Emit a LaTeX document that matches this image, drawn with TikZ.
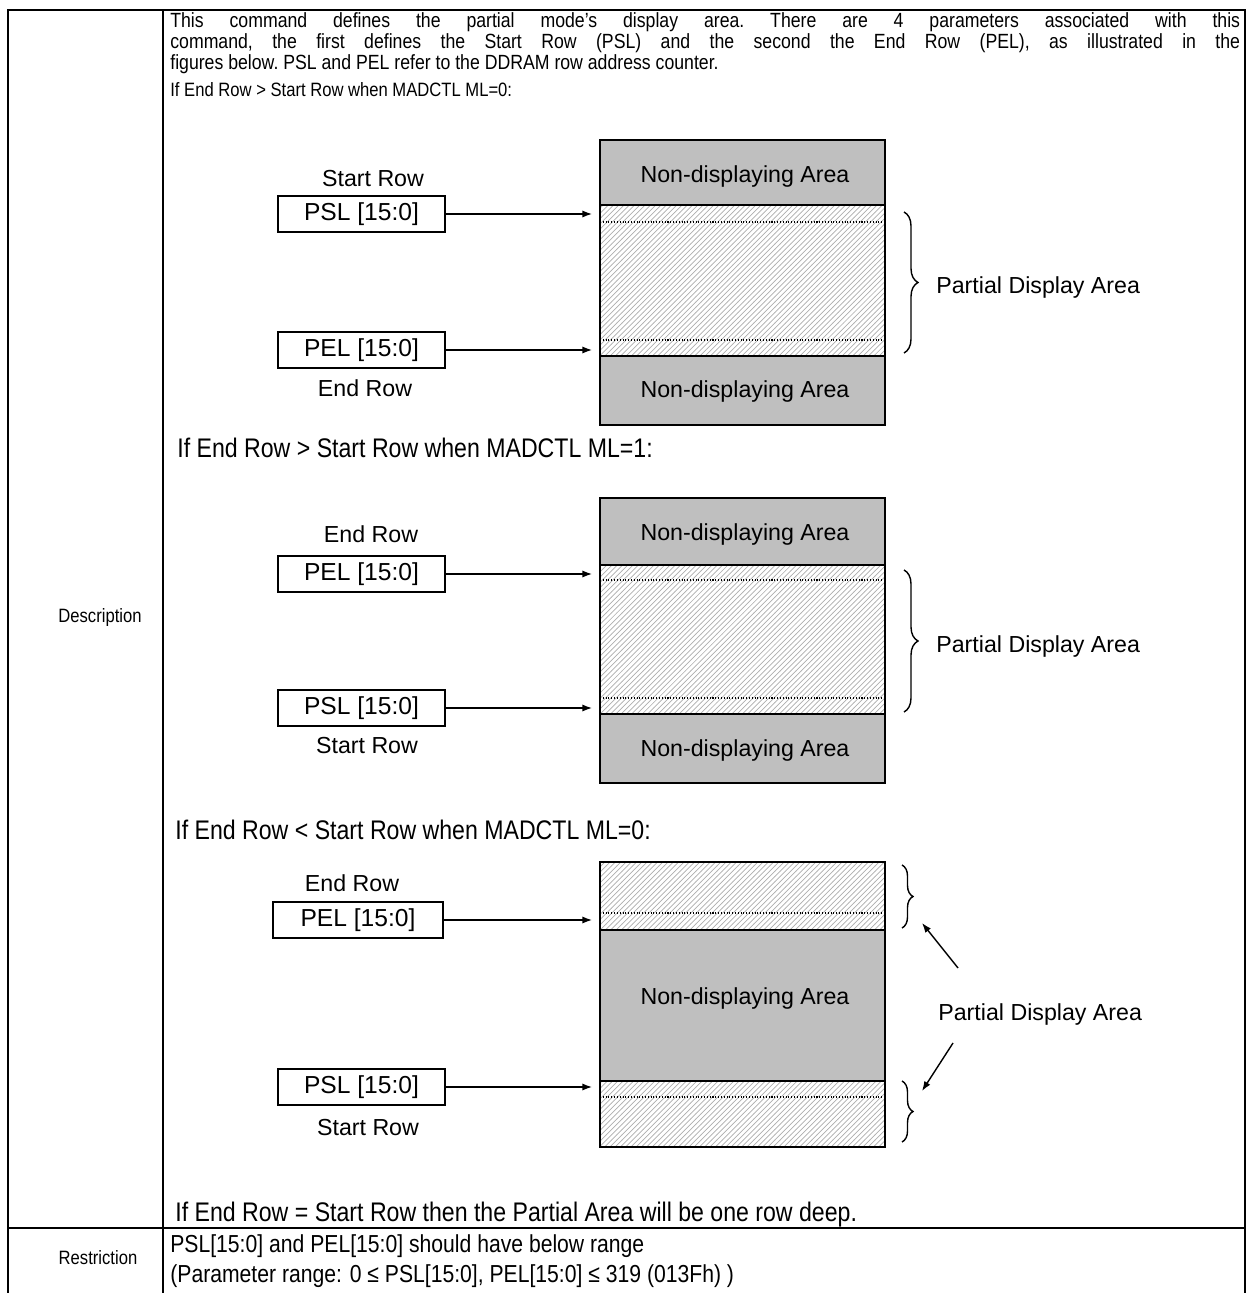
\documentclass[tikz,border=0pt]{standalone}
\usepackage{fontspec}
\setmainfont{Liberation Sans}
\newfontfamily\narrowfamily{Liberation Sans}[FakeStretch=0.86]
\newcommand{\narrowtext}{\narrowfamily\fontsize{11}{10.8}\selectfont}
\newcommand{\introtext}{\narrowfamily\fontsize{11.7}{10.8}\selectfont\frenchspacing}
\newcommand{\casetext}{\narrowfamily\fontsize{15.3}{16}\selectfont}
\newcommand{\rangetext}{\narrowfamily\fontsize{14}{14}\selectfont}
\newcommand{\diagtext}{\fontsize{13.2}{14}\selectfont}
\newcommand{\regtext}{\fontsize{14}{15}\selectfont}
\usetikzlibrary{arrows.meta,patterns,decorations.pathreplacing}

\begin{document}
\begin{tikzpicture}[
    x=0.02cm, y=-0.02cm,
    font=\diagtext,
    tableline/.style={line width=1.5pt, line join=miter},
    cellline/.style={line width=1.1pt},
    narrow/.style={font=\narrowtext, inner sep=0pt, anchor=west},
    caption/.style={inner sep=0pt},
    regbox/.style={draw, font=\regtext, line width=0.9pt, minimum width=3.34cm, minimum height=0.72cm, inner sep=0pt},
    nondisp/.style={draw, line width=1pt, fill=black!25, minimum width=5.7cm, inner sep=0pt},
    partial/.style={draw, line width=1pt, pattern=north east lines, pattern color=black!32,
      minimum width=5.7cm, inner sep=0pt},
    rowline/.style={densely dotted, line width=0.6pt},
    arrow/.style={-{Latex[length=5.5pt,width=4pt]}, line width=0.8pt},
    curly/.style={decorate, decoration={brace, amplitude=0.28cm}, line width=0.8pt}
  ]
    \useasboundingbox (0,0) rectangle (1248,1293);

    % table frame
    \draw[tableline] (8,1293) -- (8,10) -- (1245,10) -- (1245,1293);
    \draw[cellline] (163,10) -- (163,1293);
    \draw[cellline] (8,1228) -- (1245,1228);

    \node[narrow, anchor=center] (desc) at (100,617) {Description};
    \node[narrow, anchor=center] (restr) at (98,1258) {Restriction};

    \node[narrow, font=\introtext, anchor=base west, text width=21.4cm, align=justify] (intro) at (170,28)
      {This command defines the partial mode’s display area. There are 4 parameters associated with this\linebreak
       command, the first defines the Start Row (PSL) and the second the End Row (PEL), as illustrated in the\linebreak
       figures below. PSL and PEL refer to the DDRAM row address counter.};

    \node[narrow] (case1) at (170,90) {If End Row > Start Row when MADCTL ML=0:};
    \node[narrow, font=\casetext] (case2) at (177,448) {If End Row > Start Row when MADCTL ML=1:};
    \node[narrow, font=\casetext] (case3) at (175,830) {If End Row < Start Row when MADCTL ML=0:};
    \node[narrow, font=\casetext] (onerow) at (175,1215)
      {If End Row = Start Row then the Partial Area will be one row deep.};
    \node[narrow, font=\rangetext] (range1) at (170,1246) {PSL[15:0] and PEL[15:0] should have below range};
    \node[narrow, font=\rangetext] (range2) at (170,1276) {(Parameter range: 0 ≤ PSL[15:0], PEL[15:0] ≤ 319 (013Fh) )};

    % case 1
    \node[partial, minimum height=3.02cm] (pa1) at (742.5,280.5) {};
    \node[nondisp, minimum height=1.3cm] (nd1a) at (742.5,172.5) {};
    \node[nondisp, minimum height=1.38cm] (nd1b) at (742.5,390.5) {};
    \node[caption] (nd1atxt) at (745,177) {Non-displaying Area};
    \node[caption] (nd1btxt) at (745,392) {Non-displaying Area};
    \draw[rowline] (600,222) -- (885,222);
    \draw[rowline] (600,340) -- (885,340);

    \node[caption] (start1) at (373,179) {Start Row};
    \node[regbox] (psl1) at (361.5,214) {PSL [15:0]};
    \node[regbox] (pel1) at (361.5,350) {PEL [15:0]};
    \node[caption] (end1) at (365,388) {End Row};
    \draw[arrow, shorten >=0.14cm] (psl1.east) -- (psl1.east -| pa1.west);
    \draw[arrow, shorten >=0.14cm] (pel1.east) -- (pel1.east -| pa1.west);

    \draw[curly] (904,212) -- (904,353);
    \node[caption, anchor=west] (pda1) at (936,288) {Partial Display Area};

    % case 2
    \node[partial, minimum height=2.98cm] (pa2) at (742.5,639.5) {};
    \node[nondisp, minimum height=1.34cm] (nd2a) at (742.5,531.5) {};
    \node[nondisp, minimum height=1.38cm] (nd2b) at (742.5,748.5) {};
    \node[caption] (nd2atxt) at (745,535) {Non-displaying Area};
    \node[caption] (nd2btxt) at (745,750) {Non-displaying Area};
    \draw[rowline] (600,580) -- (885,580);
    \draw[rowline] (600,698) -- (885,698);

    \node[caption] (end2) at (371,534) {End Row};
    \node[regbox] (pel2) at (361.5,574) {PEL [15:0]};
    \node[regbox] (psl2) at (361.5,708) {PSL [15:0]};
    \node[caption] (start2) at (367,746) {Start Row};
    \draw[arrow, shorten >=0.14cm] (pel2.east) -- (pel2.east -| pa2.west);
    \draw[arrow, shorten >=0.14cm] (psl2.east) -- (psl2.east -| pa2.west);

    \draw[curly] (904,570) -- (904,712);
    \node[caption, anchor=west] (pda2) at (936,646) {Partial Display Area};

    % case 3
    \node[partial, minimum height=1.36cm] (pa3a) at (742.5,896) {};
    \node[partial, minimum height=1.32cm] (pa3b) at (742.5,1114) {};
    \node[nondisp, minimum height=3.02cm] (nd3) at (742.5,1005.5) {};
    \node[caption] (nd3txt) at (745,998) {Non-displaying Area};
    \draw[rowline] (600,913) -- (885,913);
    \draw[rowline] (600,1097) -- (885,1097);

    \node[caption] (end3) at (352,883) {End Row};
    \node[regbox, minimum width=3.4cm] (pel3) at (358,920) {PEL [15:0]};
    \node[regbox] (psl3) at (361.5,1087) {PSL [15:0]};
    \node[caption] (start3) at (368,1128) {Start Row};
    \draw[arrow, shorten >=0.14cm] (pel3.east) -- (pel3.east -| pa3a.west);
    \draw[arrow, shorten >=0.14cm] (psl3.east) -- (psl3.east -| pa3b.west);

    \draw[curly, decoration={amplitude=0.22cm}] (902,865) -- (902,928);
    \draw[curly, decoration={amplitude=0.22cm}] (902,1081) -- (902,1142);
    \node[caption, anchor=west] (pda3) at (938,1014) {Partial Display Area};
    \coordinate (from3a) at (958,968);
    \coordinate (tip3a) at (922,923);
    \coordinate (from3b) at (953,1043);
    \coordinate (tip3b) at (922,1091);
    \draw[arrow] (from3a) -- (tip3a);
    \draw[arrow] (from3b) -- (tip3b);
  \end{tikzpicture}
\end{document}
